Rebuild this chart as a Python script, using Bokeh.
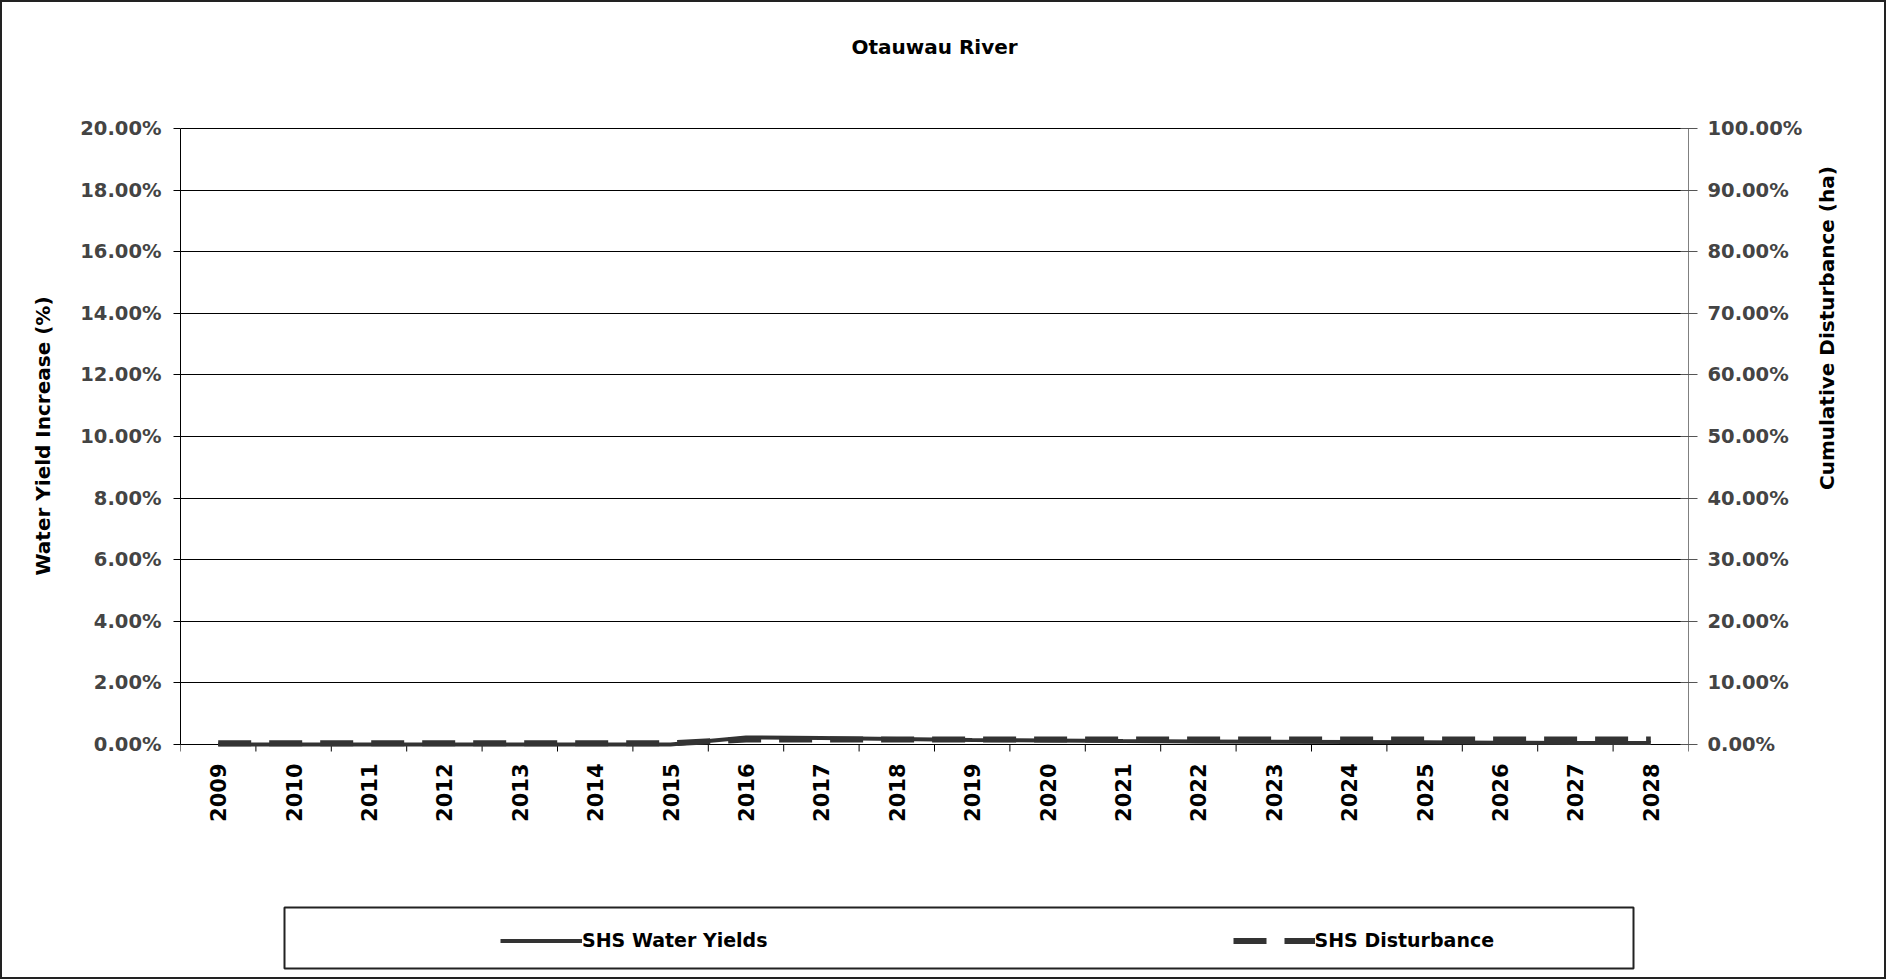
from bokeh.plotting import figure
from bokeh.models import (Range1d, LinearAxis, FixedTicker, PrintfTickFormatter,
                          Legend, LegendItem, BoxAnnotation, ColumnDataSource, Title)
from bokeh.core.properties import value
from bokeh.embed import file_html
from bokeh.resources import INLINE
import math

# ---------------- data ----------------
years = ["2009", "2010", "2011", "2012", "2013", "2014", "2015", "2016", "2017", "2018",
         "2019", "2020", "2021", "2022", "2023", "2024", "2025", "2026", "2027", "2028"]
water_yield = [0.00, 0.00, 0.00, 0.00, 0.00, 0.00, 0.00, 0.23, 0.21, 0.18,
               0.15, 0.13, 0.11, 0.10, 0.09, 0.08, 0.07, 0.06, 0.05, 0.05]   # % (left axis)
disturbance = [0.20, 0.20, 0.20, 0.20, 0.20, 0.20, 0.20, 0.80, 0.80, 0.80,
               0.80, 0.80, 0.80, 0.80, 0.80, 0.80, 0.80, 0.80, 0.80, 0.80]   # % (right axis)
left_ticks = [0, 2, 4, 6, 8, 10, 12, 14, 16, 18, 20]
right_ticks = [0, 10, 20, 30, 40, 50, 60, 70, 80, 90, 100]
title_text = "Otauwau River"
left_label = "Water Yield Increase (%)"
right_label = "Cumulative Disturbance (ha)"
series_names = ["SHS Water Yields", "SHS Disturbance"]

# ---------------- layout (page pixels) ----------------
W, H = 1886, 979
FRAME_L, FRAME_R = 180, 1688
TOP20_Y, ZERO_Y = 128, 744          # page y of 20 % and 0 %
FONT = "DejaVu Sans"
DARK = "#333333"

n = len(years)
xs = list(range(n))
px_per_unit = (ZERO_Y - TOP20_Y) / left_ticks[-1]


def ly(page_y):
    return (ZERO_Y - page_y) / px_per_unit


def lx(page_x):
    return -0.5 + (page_x - FRAME_L) / ((FRAME_R - FRAME_L) / n)


y_start, y_end = ly(H), ly(0)

p = figure(width=W, height=H, output_backend="svg", toolbar_location=None,
           x_range=Range1d(-0.5, n - 0.5), y_range=Range1d(y_start, y_end),
           x_axis_location=None, y_axis_location=None,
           min_border_left=FRAME_L, min_border_right=W - FRAME_R,
           min_border_top=0, min_border_bottom=0)
p.extra_y_ranges = {"dist": Range1d(y_start * 5, y_end * 5)}
p.outline_line_color = None
p.background_fill_alpha = 0
p.border_fill_alpha = 0
p.stylesheets = [
    ":host { position: relative; }",
    ":host::after { content: ''; position: absolute; left: 0; top: 0; "
    "width: %dpx; height: %dpx; box-sizing: border-box; border: 2px solid #222222; "
    "pointer-events: none; z-index: 1000; }" % (W, H),
]

# chart title (drawn as text in the plot area above the 20 % line)
p.text(x=[(n - 1) / 2], y=[ly(46)], text=[title_text], text_align="center",
       text_baseline="middle", text_font=value(FONT), text_font_size="20px",
       text_font_style="bold", text_color="black")

# grid
p.xgrid.visible = False
p.ygrid.ticker = FixedTicker(ticks=left_ticks)
p.ygrid.grid_line_color = "black"
p.ygrid.grid_line_width = 1

# left axis
la = LinearAxis(bounds=(left_ticks[0], left_ticks[-1]), ticker=FixedTicker(ticks=left_ticks),
                formatter=PrintfTickFormatter(format="%.2f%%"))
la.axis_line_color = "black"
la.major_tick_line_color = "black"
la.major_tick_out = 7
la.major_tick_in = 0
la.minor_tick_line_color = None
la.major_label_standoff = 12
la.major_label_text_font = FONT
la.major_label_text_font_size = "19.5px"
la.major_label_text_font_style = "bold"
p.add_layout(la, "left")

# right axis
ra = LinearAxis(y_range_name="dist", bounds=(right_ticks[0], right_ticks[-1]),
                ticker=FixedTicker(ticks=right_ticks),
                formatter=PrintfTickFormatter(format="%.2f%%"),
                axis_label=right_label)
ra.axis_line_color = "#808080"
ra.major_tick_line_color = "#555555"
ra.major_tick_out = 9
ra.major_tick_in = 8
ra.minor_tick_line_color = None
ra.major_label_standoff = 10
ra.major_label_text_font = FONT
ra.major_label_text_font_size = "19.5px"
ra.major_label_text_font_style = "bold"
ra.axis_label_orientation = math.pi / 2      # read bottom-to-top, as in the original
try:
    ra.axis_label_align = "center"
except Exception:
    pass
ra.axis_label_standoff = 22
ra.axis_label_text_font = FONT
ra.axis_label_text_font_size = "20px"
ra.axis_label_text_font_style = "bold"
ra.axis_label_text_color = "black"
p.add_layout(ra, "right")

# left axis title as a side-panel title, positioned around the 0-20 % span
lt = Title(text=left_label, align="left", offset=404, standoff=46, vertical_align="bottom",
           text_font=FONT, text_font_size="20px", text_font_style="bold", text_color="black")
p.add_layout(lt, "left")

# category axis (drawn in data space below zero line)
tick_x = [i - 0.5 for i in range(n + 1)]
p.segment(x0=tick_x, y0=[0] * (n + 1), x1=tick_x, y1=[ly(ZERO_Y + 7)] * (n + 1),
          line_color="black", line_width=1)
p.segment(x0=[-0.5], y0=[0], x1=[n - 0.5], y1=[0], line_color="black", line_width=1)
lab_src = ColumnDataSource(dict(x=xs, y=[ly(763)] * n, t=years))
p.text(x="x", y="y", text="t", source=lab_src, angle=math.pi / 2,
       text_align="right", text_baseline="middle",
       text_font=value(FONT), text_font_size="21px", text_font_style="bold",
       text_color="black")

# series
r1 = p.line(xs, water_yield, line_color=DARK, line_width=4)
r2 = p.line(xs, disturbance, y_range_name="dist", line_color=DARK, line_width=6,
            line_dash="33 18")

# legend box
box = BoxAnnotation(left=lx(284), right=lx(1633), top=ly(907), bottom=ly(968),
                    fill_color=None, fill_alpha=0, line_color="#222222",
                    line_alpha=1.0, line_width=2)
p.add_layout(box)

legend = Legend(items=[LegendItem(label=series_names[0], renderers=[r1]),
                       LegendItem(label=series_names[1], renderers=[r2])],
                orientation="horizontal", location=(500 - FRAME_L, H - 951),
                glyph_width=82, glyph_height=21, label_height=21, label_width=185,
                label_standoff=0, spacing=465, padding=0, margin=0,
                border_line_color=None, background_fill_alpha=0,
                label_text_font=FONT, label_text_font_size="19px",
                label_text_font_style="bold", label_text_color="black")
p.add_layout(legend)

open("out.html", "w").write(file_html(p, INLINE))
